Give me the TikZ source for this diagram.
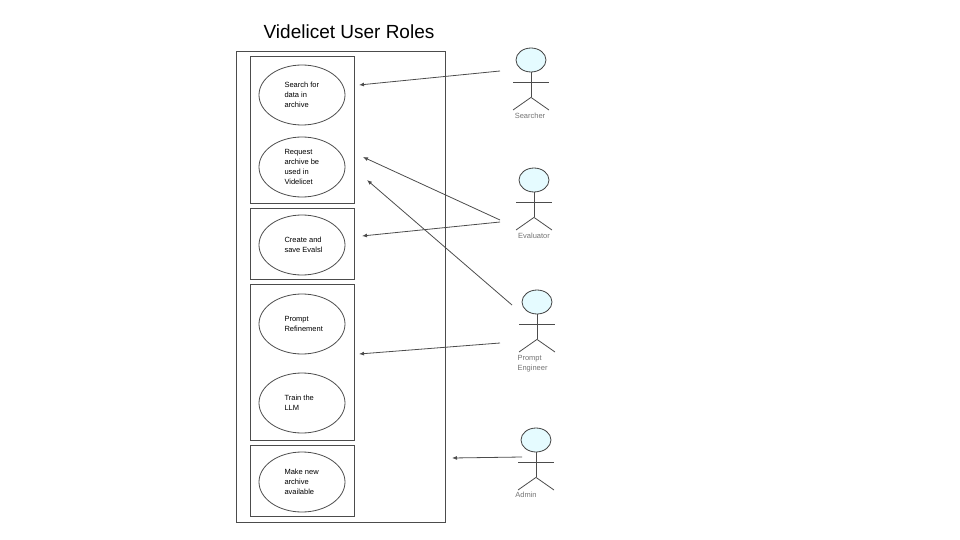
\documentclass[tikz,border=0pt]{standalone}
\usepackage{fontspec}
\setmainfont{Liberation Sans}
\usetikzlibrary{arrows.meta,shapes.geometric}
\begin{document}
\begin{tikzpicture}[x=1pt,y=-1pt,
  ln/.style={draw=black!70,line width=0.8pt},
  uc/.style={ln,ellipse,minimum width=86pt,minimum height=60pt,inner sep=0pt},
  uct/.style={align=left,font=\fontsize{7.5}{10}\selectfont},
  head/.style={ln,fill=blue!15!cyan!10!white,draw=black!75,ellipse,minimum width=30pt,minimum height=24pt,inner sep=0pt},
  lab/.style={font=\fontsize{7.5}{10}\selectfont,text=black!55,align=left},
  arr/.style={draw=black!70,line width=0.8pt,-{Latex[length=5pt,width=4pt]}}]
\useasboundingbox (0,0) rectangle (960,540);
\node[font=\fontsize{19}{22}\selectfont] (title) at (349,32) {Videlicet User Roles};
\draw[ln] (236,51) rectangle (445,522);
\draw[ln] (250,56) rectangle (354,203);
\draw[ln] (250,208) rectangle (354,279);
\draw[ln] (250,284) rectangle (354,440);
\draw[ln] (250,445) rectangle (354,516);
\node[uc] (u1) at (302,95) {}; \node[uct,anchor=west] at (281,95) {Search for\\data in\\archive};
\node[uc] (u2) at (302,167) {}; \node[uct,anchor=west] at (281,167) {Request\\archive be\\used in\\Videlicet};
\node[uc] (u3) at (302,245) {}; \node[uct,anchor=west] at (281,245) {Create and\\save Evalsl};
\node[uc] (u4) at (302,324) {}; \node[uct,anchor=west] at (281,324) {Prompt\\Refinement};
\node[uc] (u5) at (302,403) {}; \node[uct,anchor=west] at (281,403) {Train the\\LLM};
\node[uc] (u6) at (302,482) {}; \node[uct,anchor=west] at (281,482) {Make new\\archive\\available};
% actors
\foreach \n/\x/\y in {s/531/60,e/534/180,p/537/302,a/536/440}{
  \node[head] (h\n) at (\x,\y) {};
  \draw[ln] (h\n.south) -- ++(0,25) coordinate (f\n);
  \draw[ln] (\x-18,\y+22) -- (\x+18,\y+22);
  \draw[ln] (\x-18,\y+50) -- (f\n) -- (\x+18,\y+50);
}
\node[lab,anchor=north] (ls) at (530,110) {Searcher};
\node[lab,anchor=north] (le) at (534,230) {Evaluator};
\node[lab,anchor=north west] (lp) at (514,352) {Prompt\\Engineer};
\node[lab,anchor=north] (la) at (526,489) {Admin};
\coordinate (s1) at (500,71); \coordinate (e1) at (359,85);
\coordinate (s2) at (500,220); \coordinate (e2) at (363,157);
\coordinate (s3) at (500,222); \coordinate (e3) at (362,236);
\coordinate (s4) at (512,305); \coordinate (e4) at (367,180);
\coordinate (s5) at (500,343); \coordinate (e5) at (359,354);
\coordinate (s6) at (522,457); \coordinate (e6) at (452,458);
\foreach \i in {1,...,6}{\draw[arr] (s\i) -- (e\i);}
\end{tikzpicture}
\end{document}
